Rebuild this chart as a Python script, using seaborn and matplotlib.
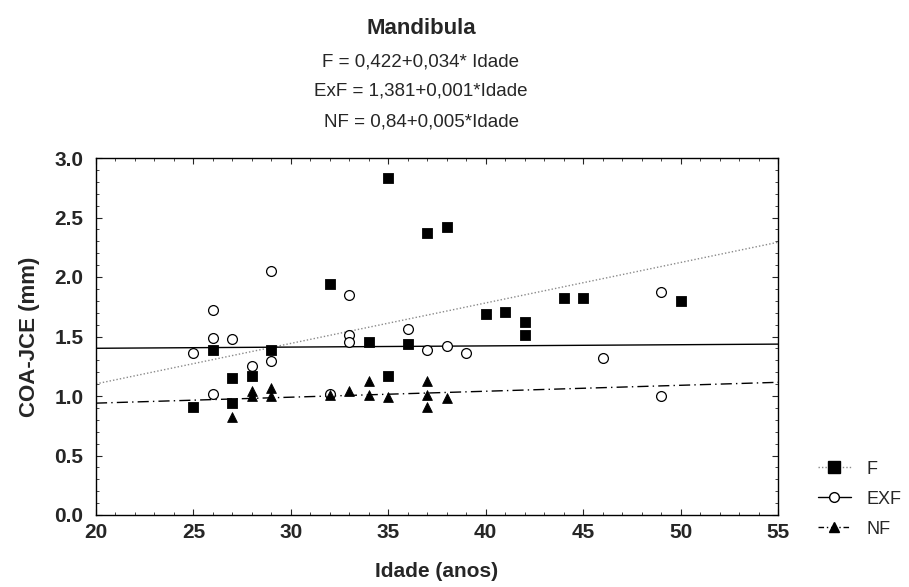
import numpy as np
import pandas as pd
import matplotlib
matplotlib.use("Agg")
import matplotlib.pyplot as plt
from matplotlib.ticker import MultipleLocator
from matplotlib.lines import Line2D
import seaborn as sns

sns.set_style("white")
plt.rcParams['font.family'] = ['Liberation Sans', 'DejaVu Sans']

# Data
f_age = [25, 26, 27, 27, 28, 29, 32, 34, 35, 35, 36, 37, 38, 40, 41, 42, 42, 44, 45, 50]
f_val = [0.91, 1.39, 1.15, 0.94, 1.17, 1.39, 1.94, 1.45, 2.83, 1.17, 1.44, 2.37, 2.42,
         1.69, 1.71, 1.62, 1.51, 1.82, 1.82, 1.80]
exf_age = [25, 26, 26, 26, 27, 28, 29, 29, 32, 33, 33, 33, 36, 37, 38, 39, 46, 49, 49]
exf_val = [1.36, 1.72, 1.49, 1.02, 1.48, 1.25, 2.05, 1.29, 1.02, 1.85, 1.51, 1.45,
           1.56, 1.39, 1.42, 1.36, 1.32, 1.87, 1.00]
nf_age = [27, 28, 28, 29, 29, 32, 33, 34, 34, 35, 37, 37, 37, 38]
nf_val = [0.82, 1.04, 1.00, 1.07, 1.00, 1.01, 1.04, 1.13, 1.01, 0.99, 1.13, 1.01, 0.91, 0.98]

groups = ["F", "EXF", "NF"]
intercepts = [0.422, 1.381, 0.84]
slopes = [0.034, 0.001, 0.005]
x_range = [20, 55]
x_ticks = [20, 25, 30, 35, 40, 45, 50, 55]
y_ticks = [0.0, 0.5, 1.0, 1.5, 2.0, 2.5, 3.0]

df = pd.DataFrame({
    "Idade": f_age + exf_age + nf_age,
    "COA": f_val + exf_val + nf_val,
    "grupo": ["F"] * len(f_age) + ["EXF"] * len(exf_age) + ["NF"] * len(nf_age),
})

W, H = 909, 587
fig = plt.figure(figsize=(W / 100, H / 100), dpi=100)
ax = fig.add_axes([96 / W, 1 - 515 / H, (778 - 96) / W, (515 - 158) / H])

line_styles = {"F": dict(color="#8a8a8a", ls=(0, (1, 1.5)), lw=1.0),
               "EXF": dict(color="black", ls="-", lw=1.0),
               "NF": dict(color="black", ls=(0, (8, 3, 1, 3)), lw=1.0)}
xs = np.array(x_range, dtype=float)
for g, a, b in zip(groups, intercepts, slopes):
    ldf = pd.DataFrame({"x": xs, "y": a + b * xs})
    sns.lineplot(data=ldf, x="x", y="y", ax=ax, legend=False, **line_styles[g])

sub = df[df.grupo == "EXF"]
sns.scatterplot(data=sub, x="Idade", y="COA", ax=ax, marker="o", s=50,
                facecolor="white", edgecolor="black", linewidth=0.9, legend=False, zorder=3)
sub = df[df.grupo == "F"]
sns.scatterplot(data=sub, x="Idade", y="COA", ax=ax, marker="s", s=55,
                color="black", edgecolor="black", legend=False, zorder=4)
sub = df[df.grupo == "NF"]
sns.scatterplot(data=sub, x="Idade", y="COA", ax=ax, marker="^", s=50,
                color="black", edgecolor="black", legend=False, zorder=4)

ax.set_xlim(*x_range)
ax.set_ylim(0, 3.0)
ax.set_xticks(x_ticks)
ax.set_yticks(y_ticks)
ax.set_yticklabels([f"{v:.1f}" for v in y_ticks])
ax.xaxis.set_minor_locator(MultipleLocator(1))
ax.yaxis.set_minor_locator(MultipleLocator(0.1))
ax.tick_params(which="both", direction="in", top=True, right=True, bottom=True, left=True)
ax.tick_params(which="major", length=4, width=0.8, labelsize=15)
ax.tick_params(axis="y", which="major", pad=9)
ax.tick_params(axis="x", which="major", pad=6)
ax.tick_params(which="minor", length=2, width=0.6)
for lab in ax.get_xticklabels() + ax.get_yticklabels():
    lab.set_fontweight("bold")
for s in ax.spines.values():
    s.set_color("black")
    s.set_linewidth(1.0)

ax.set_xlabel("Idade (anos)", fontsize=15, fontweight="bold", labelpad=14)
ax.set_ylabel("COA-JCE (mm)", fontsize=16, fontweight="bold", labelpad=10)

cx = 421 / W
fig.text(cx, 1 - 28 / H, "Mandibula", ha="center", va="center", fontsize=16, fontweight="bold")
fig.text(cx, 1 - 62 / H, "F = 0,422+0,034* Idade", ha="center", va="center", fontsize=13.5)
fig.text(cx, 1 - 91 / H, "ExF = 1,381+0,001*Idade", ha="center", va="center", fontsize=13.5)
fig.text(cx, 1 - 122 / H, "NF = 0,84+0,005*Idade", ha="center", va="center", fontsize=13.5)

handles = [
    Line2D([], [], marker="s", color="#8a8a8a", ls=(0, (1, 1.5)), markerfacecolor="black",
           markeredgecolor="black", markersize=8, lw=1.0),
    Line2D([], [], marker="o", color="black", ls="-", markerfacecolor="white",
           markeredgecolor="black", markersize=7, lw=1.0),
    Line2D([], [], marker="^", color="black", ls=(0, (4, 2, 1, 2)), markerfacecolor="black",
           markeredgecolor="black", markersize=7, lw=1.0),
]
fig.legend(handles, groups, loc="center left", bbox_to_anchor=(818 / W, 1 - 499 / H),
           frameon=False, fontsize=13, handlelength=1.8, handletextpad=0.9,
           labelspacing=0.72, borderpad=0, borderaxespad=0)

fig.savefig("out.png", dpi=100)
